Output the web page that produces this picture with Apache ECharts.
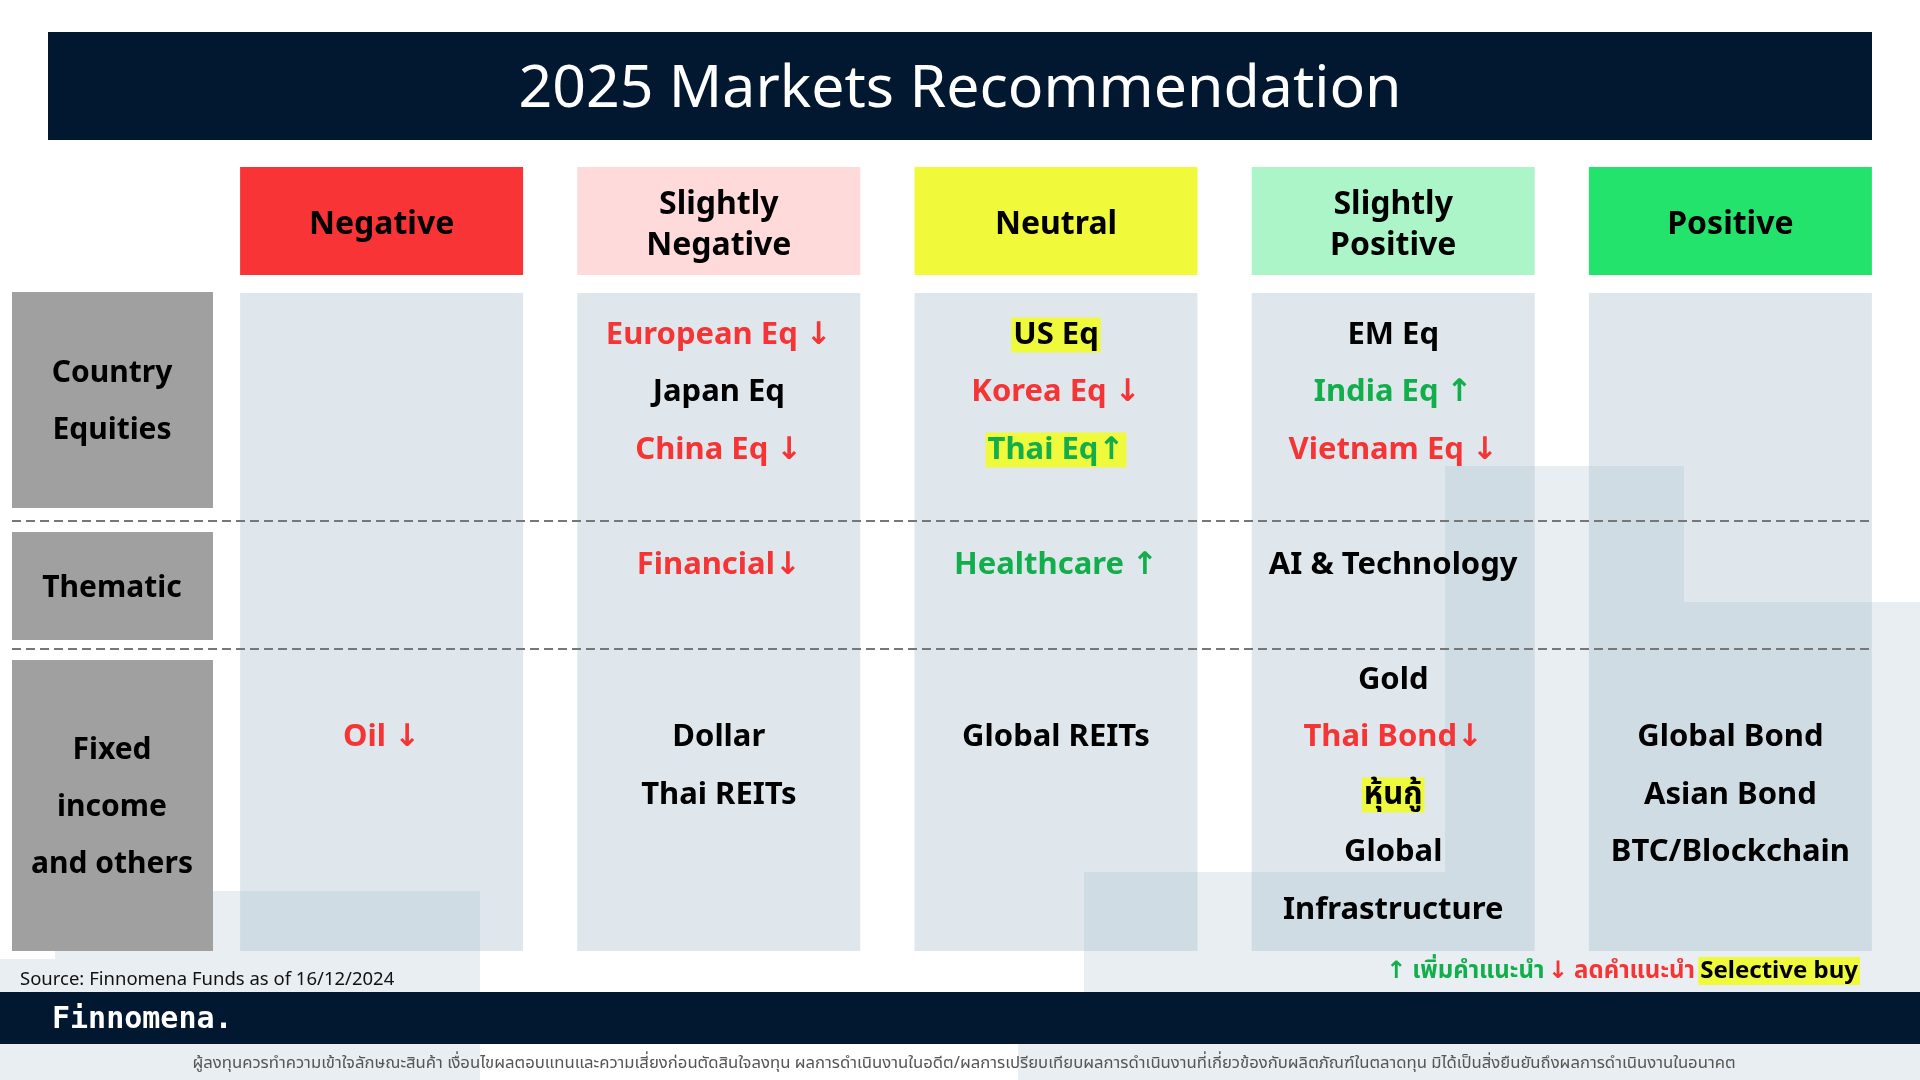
<!DOCTYPE html>
<html>
<head>
<meta charset="utf-8">
<title>2025 Markets Recommendation</title>
<script src="https://cdn.jsdelivr.net/npm/echarts@6/dist/echarts.min.js"></script>
<style>
  html, body { margin: 0; padding: 0; background: #fff; }
  #chart { width: 1920px; height: 1080px; }
</style>
</head>
<body>
<div id="chart"></div>
<script>
const title = '2025 Markets Recommendation';
const columns = ['Negative', 'Slightly\nNegative', 'Neutral', 'Slightly\nPositive', 'Positive'];
const headerColors = ['#F93436', '#FFDADA', '#F1F93B', '#ABF5C8', '#23E36D'];
const rowLabels = ['Country\nEquities', 'Thematic', 'Fixed\nincome\nand others'];

// [column, slot, text, tone, selective buy]
const countryEquities = [
  [1, 0, 'European Eq ↓', 'down', 0],
  [1, 1, 'Japan Eq', 'flat', 0],
  [1, 2, 'China Eq ↓', 'down', 0],
  [2, 0, 'US Eq', 'flat', 1],
  [2, 1, 'Korea Eq ↓', 'down', 0],
  [2, 2, 'Thai Eq↑', 'up', 1],
  [3, 0, 'EM Eq', 'flat', 0],
  [3, 1, 'India Eq ↑', 'up', 0],
  [3, 2, 'Vietnam Eq ↓', 'down', 0]
];
const thematic = [
  [1, 4, 'Financial↓', 'down', 0],
  [2, 4, 'Healthcare ↑', 'up', 0],
  [3, 4, 'AI & Technology', 'flat', 0]
];
const fixedIncomeOthers = [
  [0, 7, 'Oil ↓', 'down', 0],
  [1, 7, 'Dollar', 'flat', 0],
  [1, 8, 'Thai REITs', 'flat', 0],
  [2, 7, 'Global REITs', 'flat', 0],
  [3, 6, 'Gold', 'flat', 0],
  [3, 7, 'Thai Bond↓', 'down', 0],
  [3, 8, 'หุ้นกู้', 'flat', 1],
  [3, 9, 'Global', 'flat', 0],
  [3, 10, 'Infrastructure', 'flat', 0],
  [4, 7, 'Global Bond', 'flat', 0],
  [4, 8, 'Asian Bond', 'flat', 0],
  [4, 9, 'BTC/Blockchain', 'flat', 0]
];
const legendItems = ['↑ เพิ่มคำแนะนำ', '↓ ลดคำแนะนำ', 'Selective buy'];
const sourceText = 'Source: Finnomena Funds as of 16/12/2024';
const brand = 'Finnomena.';
const disclaimer = 'ผู้ลงทุนควรทำความเข้าใจลักษณะสินค้า เงื่อนไขผลตอบแทนและความเสี่ยงก่อนตัดสินใจลงทุน ผลการดำเนินงานในอดีต/ผลการเปรียบเทียบผลการดำเนินงานที่เกี่ยวข้องกับผลิตภัณฑ์ในตลาดทุน มิได้เป็นสิ่งยืนยันถึงผลการดำเนินงานในอนาคต';

const FONT = '"Noto Sans", "Noto Sans Thai", "DejaVu Sans", sans-serif';
const NAVY = '#011830';
const HIGHLIGHT = '#EFFA3C';
const toneColors = { down: '#F53535', up: '#12AE4B', flat: '#000000' };
const tint = 'rgba(163,187,203,0.25)';

var myChart = echarts.init(document.getElementById('chart'));

function itemRenderer(list) {
  return function (params, api) {
    const d = list[params.dataIndex];
    const p = api.coord([d[0], d[1]]);
    return {
      type: 'text',
      x: p[0],
      y: p[1] + 1,
      style: {
        text: d[2],
        fill: toneColors[d[3]],
        font: 'bold 31px ' + FONT,
        align: 'center',
        verticalAlign: 'middle',
        backgroundColor: d[4] ? HIGHLIGHT : 'transparent',
        padding: d[4] ? [2, 2] : 0
      }
    };
  };
}

function itemSeries(list) {
  return {
    type: 'custom',
    z: 5,
    renderItem: itemRenderer(list),
    data: list.map(function (d) { return [d[0], d[1]]; })
  };
}

// decorative background blocks
const decor = [
  [1445, 466, 239, 406], [1684, 602, 236, 270], [1084, 872, 836, 208],
  [1018, 1044, 66, 36], [55, 891, 425, 189], [0, 959, 55, 121]
].map(function (r) {
  return { type: 'rect', z: 0, shape: { x: r[0], y: r[1], width: r[2], height: r[3] }, style: { fill: tint } };
});

const rowBoxes = [[292, 508], [532, 640], [660, 951]];
const rowGraphics = rowLabels.map(function (lab, i) {
  const b = rowBoxes[i];
  return {
    type: 'group', z: 10,
    children: [
      { type: 'rect', shape: { x: 12, y: b[0], width: 201, height: b[1] - b[0] }, style: { fill: '#A0A0A0' } },
      { type: 'text', x: 112, y: (b[0] + b[1]) / 2 + 2, style: { text: lab, font: 'bold 30px ' + FONT, lineHeight: 57, fill: '#000', align: 'center', verticalAlign: 'middle' } }
    ]
  };
});

const dashes = [521, 649].map(function (y) {
  return { type: 'line', z: 10, shape: { x1: 12, y1: y, x2: 1872, y2: y }, style: { stroke: '#777', lineWidth: 2, lineDash: [9, 5] } };
});

const option = {
  animation: false,
  backgroundColor: '#ffffff',
  grid: { left: 213, right: 21, top: 219, bottom: 56 },
  xAxis: { type: 'category', data: columns, show: false },
  yAxis: { type: 'value', min: -2, max: 12, inverse: true, show: false },
  graphic: [].concat(decor, [
    { type: 'rect', z: 10, shape: { x: 48, y: 32, width: 1824, height: 108 }, style: { fill: NAVY } },
    { type: 'text', z: 11, x: 960, y: 90, style: { text: title, font: '400 59px ' + FONT, fill: '#fff', align: 'center', verticalAlign: 'middle' } },
    { type: 'rect', z: 10, shape: { x: 0, y: 992, width: 1920, height: 52 }, style: { fill: NAVY } },
    { type: 'text', z: 11, x: 52, y: 1020, style: { text: brand, font: 'bold 30px "DejaVu Sans Mono", monospace', fill: '#fff', verticalAlign: 'middle' } },
    { type: 'text', z: 11, x: 20, y: 980, style: { text: sourceText, font: '18.5px ' + FONT, fill: '#111', verticalAlign: 'middle' } },
    { type: 'text', z: 11, x: 964, y: 1063, style: { text: disclaimer, font: '16.7px ' + FONT, fill: '#555', align: 'center', verticalAlign: 'middle' } },
    {
      type: 'text', z: 11, x: 1860, y: 971,
      style: {
        text: '{g|' + legendItems[0] + '} {r|' + legendItems[1] + '} {y|' + legendItems[2] + '}',
        align: 'right', verticalAlign: 'middle',
        rich: {
          g: { fill: toneColors.up, font: 'bold 24px ' + FONT },
          r: { fill: toneColors.down, font: 'bold 24px ' + FONT },
          y: { fill: '#000', font: 'bold 24px ' + FONT, backgroundColor: HIGHLIGHT, padding: [2, 2] }
        }
      }
    }
  ], rowGraphics, dashes),
  series: [
    {
      type: 'custom',
      z: 2,
      data: columns.map(function (c, i) { return [i, 0]; }),
      renderItem: function (params, api) {
        const i = params.dataIndex;
        const cx = api.coord([i, 0])[0];
        return {
          type: 'group',
          children: [
            { type: 'rect', shape: { x: cx - 141.5, y: 167, width: 283, height: 108 }, style: { fill: headerColors[i] } },
            { type: 'text', x: cx, y: 225, style: { text: columns[i], font: 'bold 32px ' + FONT, lineHeight: 41, fill: '#000', align: 'center', verticalAlign: 'middle' } },
            { type: 'rect', shape: { x: cx - 141.5, y: 293, width: 283, height: 658 }, style: { fill: 'rgba(163,187,203,0.35)' } }
          ]
        };
      }
    },
    itemSeries(countryEquities),
    itemSeries(thematic),
    itemSeries(fixedIncomeOthers)
  ]
};

myChart.setOption(option, true);
</script>
</body>
</html>
